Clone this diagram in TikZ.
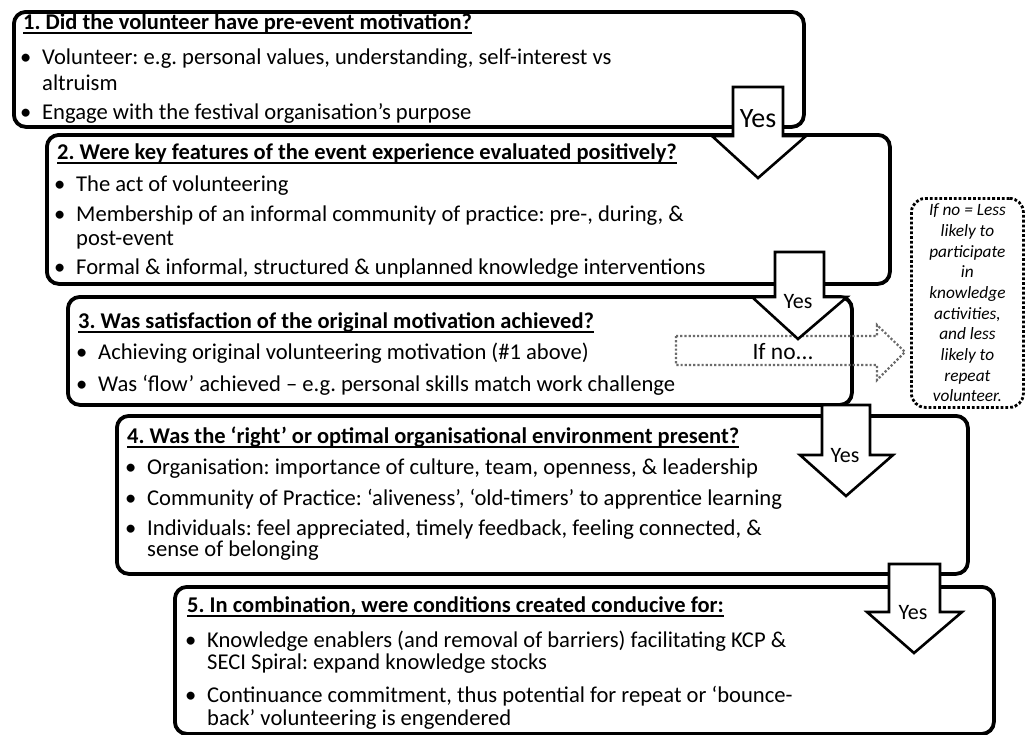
\documentclass[tikz,border=0pt]{standalone}
\usepackage{fontspec}
\setmainfont{Carlito}
\usepackage{xcolor}
\usetikzlibrary{calc}
\definecolor{ink}{HTML}{000000}
\definecolor{dotgrey}{HTML}{6B6B6B}
\tikzset{
  qbox/.style={draw=ink, line width=3.8pt, rounded corners=12pt, fill=white, anchor=north west, inner sep=0pt},
  yesarrow/.style={draw=ink, line width=2.6pt, fill=white, line join=miter},
  noarrow/.style={draw=dotgrey, line width=2.2pt, dotted},
  nobox/.style={draw=ink, line width=2.8pt, dotted, rounded corners=14pt, anchor=north west,
    align=center, font=\fontsize{17.3}{20.7}\selectfont\itshape},
  ttl/.style={anchor=base west, inner sep=0pt, font=\fontsize{22.5}{26}\selectfont\bfseries},
  itm/.style={anchor=base west, inner sep=0pt, font=\fontsize{22.6}{26}\selectfont},
  yeslbl/.style={inner sep=0pt, font=\fontsize{22}{24}\selectfont},
  uline/.style={draw=ink, line width=1.4pt}
}
\newcommand{\bul}{\makebox[22pt][l]{•}}

\begin{document}
\frenchspacing
\begin{tikzpicture}[x=1pt, y=-1pt]
  \useasboundingbox (0,0) rectangle (1025,734);

  % question boxes
  \node[qbox, minimum width=790, minimum height=115] (q1) at (12,10) {};
  \node[qbox, minimum width=843, minimum height=149] (q2) at (45,133) {};
  \node[qbox, minimum width=784, minimum height=108] (q3) at (66,295) {};
  \node[qbox, minimum width=851, minimum height=158] (q4) at (115,414) {};
  \node[qbox, minimum width=819, minimum height=147] (q5) at (173,585) {};

  % box 1
  \node[ttl] (t1) at (23,29) {1. Did the volunteer have pre-event motivation?};
  \node[itm] (i1a) at (20,64) {\bul Volunteer: e.g. personal values, understanding, self-interest vs};
  \node[itm] (i1b) at (42,90) {altruism};
  \node[itm] (i1c) at (20,119) {\bul Engage with the festival organisation’s purpose};

  % box 2
  \node[ttl] (t2) at (57,159) {2. Were key features of the event experience evaluated positively?};
  \node[itm] (i2a) at (54,191) {\bul The act of volunteering};
  \node[itm] (i2b) at (54,221) {\bul Membership of an informal community of practice: pre-, during, \&};
  \node[itm] (i2c) at (76,245) {post-event};
  \node[itm] (i2d) at (54,274) {\bul Formal \& informal, structured \& unplanned knowledge interventions};

  % box 3
  \node[ttl] (t3) at (78,328) {3. Was satisfaction of the original motivation achieved?};
  \node[itm] (i3a) at (76,359) {\bul Achieving original volunteering motivation (\#1 above)};
  \node[itm] (i3b) at (76,391) {\bul Was ‘flow’ achieved – e.g. personal skills match work challenge};

  % box 4
  \node[ttl] (t4) at (127,443) {4. Was the ‘right’ or optimal organisational environment present?};
  \node[itm] (i4a) at (125,474) {\bul Organisation: importance of culture, team, openness, \& leadership};
  \node[itm] (i4b) at (125,505) {\bul Community of Practice: ‘aliveness’, ‘old-timers’ to apprentice learning};
  \node[itm] (i4c) at (125,535) {\bul Individuals: feel appreciated, timely feedback, feeling connected, \&};
  \node[itm] (i4d) at (147,556) {sense of belonging};

  % box 5
  \node[ttl] (t5) at (187,612) {5. In combination, were conditions created conducive for:};
  \node[itm] (i5a) at (185,647) {\bul Knowledge enablers (and removal of barriers) facilitating KCP \&};
  \node[itm] (i5b) at (207,669) {SECI Spiral: expand knowledge stocks};
  \node[itm] (i5c) at (185,702) {\bul Continuance commitment, thus potential for repeat or ‘bounce-};
  \node[itm] (i5d) at (207,725) {back’ volunteering is engendered};

  \foreach \t in {t1,t2,t3,t4,t5}
    \draw[uline] ([yshift=-4pt]\t.base west) -- ([yshift=-4pt]\t.base east);

  % if no
  \draw[noarrow] (676,336) -- (877,336) -- (877,325) -- (905,352) -- (877,380)
    -- (877,365) -- (676,365) -- cycle;
  \node[yeslbl, font=\fontsize{23.5}{26}\selectfont] (ifno) at (783,352) {If no...};
  \node[nobox, minimum width=112, minimum height=209] (note) at (910,197)
    {If no = Less\\likely to\\participate\\in\\knowledge\\activities,\\and less\\likely to\\repeat\\volunteer.};

  % yes arrows
  \draw[yesarrow] (733,87) -- (783,87) -- (783,136) -- (806,136) -- (758,178)
    -- (712,136) -- (733,136) -- cycle;
  \node[yeslbl, font=\fontsize{28}{30}\selectfont] (y1) at (758,119) {Yes};

  \draw[yesarrow] (775,252) -- (824,252) -- (824,297) -- (847,297) -- (798,339)
    -- (752,297) -- (775,297) -- cycle;
  \node[yeslbl] (y2) at (798,302) {Yes};

  \draw[yesarrow] (822,405) -- (870,405) -- (870,455) -- (893,455) -- (846,496)
    -- (800,455) -- (822,455) -- cycle;
  \node[yeslbl] (y3) at (845,456) {Yes};

  \draw[yesarrow] (889,564) -- (940,564) -- (940,612) -- (962,612) -- (914,653)
    -- (867,612) -- (889,612) -- cycle;
  \node[yeslbl] (y4) at (913,613) {Yes};
\end{tikzpicture}
\end{document}
